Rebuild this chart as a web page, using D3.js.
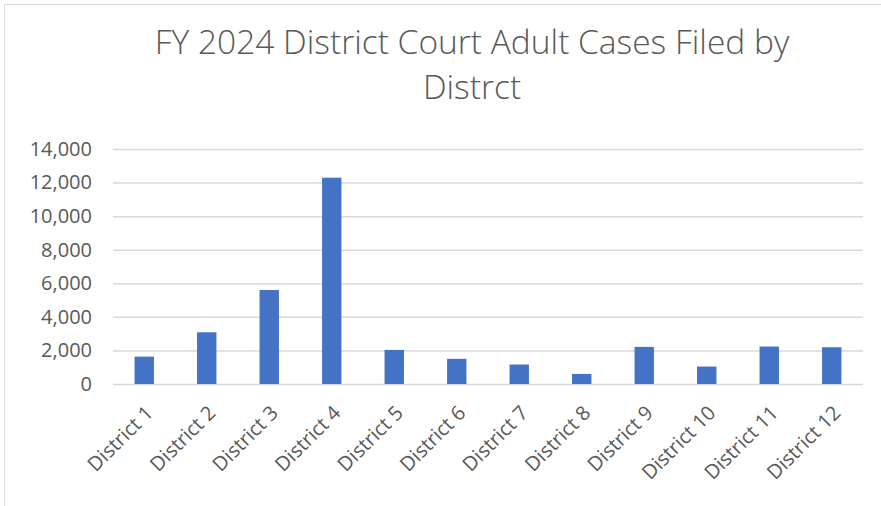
<!DOCTYPE html>
<html>
<head>
	<title>district cases</title>
	<style>
	body { margin: 0; background: #fff; }
	.title { font-family: 'Open Sans', sans-serif; font-weight: 300; font-size: 33.5px; fill: #595959; text-anchor: middle; }
	.tick text { font-family: 'Open Sans', sans-serif; fill: #595959; }
	</style>
	<script src="https://d3js.org/d3.v7.min.js"></script>
</head>
<body>
	<script type="text/javascript">
		var districts = ['District 1', 'District 2', 'District 3', 'District 4', 'District 5', 'District 6',
			'District 7', 'District 8', 'District 9', 'District 10', 'District 11', 'District 12'];
		var casesFiled = [1630, 3080, 5600, 12290, 2030, 1500, 1160, 600, 2210, 1040, 2230, 2190];
		var yTicks = [0, 2000, 4000, 6000, 8000, 10000, 12000, 14000];
		var titleLines = ['FY 2024 District Court Adult Cases Filed by', 'Distrct'];

		var width = 881, height = 506;
		var plotLeft = 113, plotRight = 863, plotTop = 149, plotBottom = 384;

		var svg = d3.select('body').append('svg')
			.attr('width', width)
			.attr('height', height);

		// chart border (cut off at right and bottom)
		svg.append('rect')
			.attr('x', 4.5).attr('y', 4.5)
			.attr('width', width + 20).attr('height', height + 20)
			.attr('fill', 'none')
			.attr('stroke', '#d9d9d9')
			.attr('stroke-width', 1);

		// title
		svg.selectAll('text.title')
			.data(titleLines)
			.enter()
			.append('text')
			.attr('class', 'title')
			.attr('x', 472)
			.attr('y', function (d, i) { return 54 + i * 45; })
			.text(function (d) { return d; });

		var x = d3.scaleBand()
			.domain(districts)
			.range([plotLeft, plotRight])
			.paddingInner(0.69)
			.paddingOuter(0.345);

		var y = d3.scaleLinear()
			.domain([0, 14000])
			.range([plotBottom, plotTop]);

		// gridlines + y labels
		var yAxis = svg.append('g')
			.attr('transform', 'translate(' + plotLeft + ',0)')
			.call(d3.axisLeft(y)
				.tickValues(yTicks)
				.tickSize(-(plotRight - plotLeft))
				.tickPadding(21)
				.tickFormat(d3.format(',')));
		yAxis.select('.domain').remove();
		yAxis.selectAll('.tick line')
			.attr('stroke', '#d9d9d9')
			.attr('stroke-width', 1.5);
		yAxis.selectAll('.tick text').style('font-size', '20px');

		// bars
		svg.selectAll('rect.bar')
			.data(casesFiled)
			.enter()
			.append('rect')
			.attr('class', 'bar')
			.attr('x', function (d, i) { return x(districts[i]); })
			.attr('y', function (d) { return y(d); })
			.attr('width', x.bandwidth())
			.attr('height', function (d) { return y(0) - y(d); })
			.attr('fill', '#4472c4');

		// x labels
		var xAxis = svg.append('g')
			.attr('transform', 'translate(0,' + plotBottom + ')')
			.call(d3.axisBottom(x).tickSize(0));
		xAxis.select('.domain').remove();
		xAxis.selectAll('.tick text')
			.style('font-size', '20px')
			.attr('text-anchor', 'end')
			.attr('dy', 0)
			.attr('transform', 'translate(8,28) rotate(-45)');
	</script>
</body>
</html>
